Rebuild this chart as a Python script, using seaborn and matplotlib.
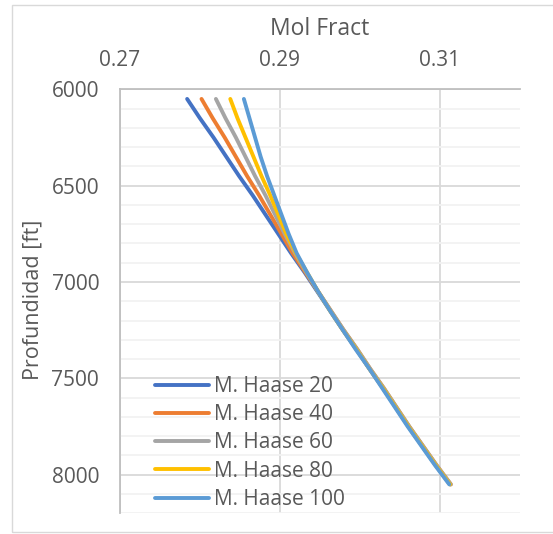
import matplotlib
matplotlib.use('Agg')
import matplotlib.pyplot as plt
from matplotlib.patches import Rectangle
from matplotlib.ticker import MultipleLocator
import pandas as pd
import seaborn as sns

depth = [6050, 6150, 6250, 6350, 6450, 6550, 6650, 6750, 6850, 6950, 7050,
         7150, 7250, 7350, 7450, 7550, 7650, 7750, 7850, 7950, 8050]

haase_20 = [0.2784, 0.2800, 0.2817, 0.2833, 0.2849, 0.2866, 0.2882, 0.2898, 0.2914, 0.2931, 0.2947,
            0.2963, 0.2979, 0.2996, 0.3012, 0.3029, 0.3045, 0.3061, 0.3078, 0.3095, 0.3113]
haase_40 = [0.2802, 0.2816, 0.2831, 0.2845, 0.2859, 0.2874, 0.2888, 0.2902, 0.2916, 0.2932, 0.2948,
            0.2964, 0.2980, 0.2997, 0.3013, 0.3030, 0.3046, 0.3062, 0.3079, 0.3096, 0.3114]
haase_60 = [0.2820, 0.2832, 0.2845, 0.2857, 0.2869, 0.2882, 0.2894, 0.2906, 0.2919, 0.2933, 0.2948,
            0.2964, 0.2980, 0.2997, 0.3013, 0.3030, 0.3046, 0.3062, 0.3079, 0.3096, 0.3114]
haase_80 = [0.2838, 0.2847, 0.2857, 0.2867, 0.2877, 0.2888, 0.2898, 0.2908, 0.2920, 0.2934, 0.2948,
            0.2963, 0.2979, 0.2996, 0.3012, 0.3029, 0.3045, 0.3061, 0.3078, 0.3095, 0.3113]
haase_100 = [0.2855, 0.2862, 0.2869, 0.2876, 0.2884, 0.2893, 0.2902, 0.2911, 0.2921, 0.2934, 0.2948,
             0.2963, 0.2979, 0.2995, 0.3012, 0.3028, 0.3044, 0.3060, 0.3077, 0.3094, 0.3112]

series = ['M. Haase 20', 'M. Haase 40', 'M. Haase 60', 'M. Haase 80', 'M. Haase 100']
colors = ['#4472C4', '#ED7D31', '#A5A5A5', '#FFC000', '#5B9BD5']
x_ticks = [0.27, 0.29, 0.31]
y_ticks = [6000, 6500, 7000, 7500, 8000]

frames = []
for name, vals in zip(series, [haase_20, haase_40, haase_60, haase_80, haase_100]):
    frames.append(pd.DataFrame({'frac': vals, 'depth': depth, 'serie': name}))
df = pd.concat(frames, ignore_index=True)

sns.set_style('white')
plt.rcParams['font.family'] = ['Open Sans', 'DejaVu Sans']
txt = '#595959'

fig = plt.figure(figsize=(5.53, 5.34), dpi=100)
ax = fig.add_axes([120 / 553, 1 - 513.3 / 534, 399.6 / 553, 424 / 534])

sns.lineplot(data=df, x='frac', y='depth', hue='serie', hue_order=series,
             palette=dict(zip(series, colors)), estimator=None, sort=False,
             orient='y', lw=2.8, solid_capstyle='round', ax=ax)

ax.set_xlim(0.27, 0.32)
ax.set_ylim(8200, 6000)
ax.xaxis.tick_top()
ax.set_xticks(x_ticks)
ax.set_xticklabels([f'{t:.2f}' for t in x_ticks])
ax.set_yticks(y_ticks)
ax.yaxis.set_minor_locator(MultipleLocator(100))

ax.grid(which='major', color='#D9D9D9', lw=1.3)
ax.yaxis.grid(which='minor', color='#F2F2F2', lw=1.3)
ax.set_axisbelow(True)
for s in ['right', 'bottom']:
    ax.spines[s].set_visible(False)
for s in ['left', 'top']:
    ax.spines[s].set_color('#BFBFBF')
    ax.spines[s].set_linewidth(1.3)

ax.tick_params(which='both', length=0, labelsize=15, colors=txt)
ax.tick_params(axis='x', pad=13)
ax.tick_params(axis='y', pad=15)
ax.set_xlabel('')
ax.set_ylabel('')
fig.text(320 / 553, 1 - 29 / 534, 'Mol Fract', ha='center', va='center', fontsize=16.5, color=txt)
fig.text(33 / 553, 1 - 300 / 534, 'Profundidad [ft]', ha='center', va='center',
         rotation=90, fontsize=15.5, color=txt)

sns.move_legend(ax, 'center left', bbox_to_anchor=(35 / 399.6, (513.3 - 443) / 424),
                frameon=False, title=None, fontsize=15, borderpad=0, borderaxespad=0,
                handlelength=2.6, handletextpad=0.25, labelspacing=0.35)
leg = ax.get_legend()
for h in leg.legend_handles:
    h.set_linewidth(2.8)
    h.set_solid_capstyle('round')
for t in leg.get_texts():
    t.set_color(txt)

fig.add_artist(Rectangle((12 / 553, 1 - 532 / 534), 560 / 553, 527 / 534,
                         transform=fig.transFigure, fill=False, ec='#D9D9D9', lw=1))

fig.savefig('out.png', dpi=100)
